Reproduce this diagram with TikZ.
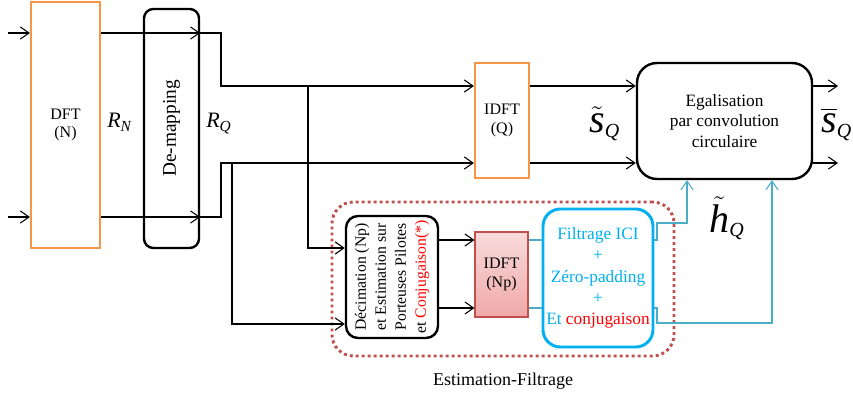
\documentclass[tikz,border=0pt]{standalone}
\usepackage{amsmath}
\usepackage{fontspec}
\setmainfont{Liberation Serif}
\usetikzlibrary{positioning,arrows.meta,calc}
\definecolor{corange}{RGB}{247,150,70}
\definecolor{cdot}{RGB}{192,80,77}
\definecolor{ccyan}{RGB}{0,176,240}
\definecolor{cline}{RGB}{75,172,198}
\definecolor{cpink}{RGB}{230,110,110}

\begin{document}
\begin{tikzpicture}[
  x=0.75pt,y=-0.75pt,
  font=\fontsize{12}{14}\selectfont,
  ob/.style={rectangle,draw=corange,line width=1.6pt,align=center,inner sep=0},
  kb/.style={rectangle,draw,rounded corners=#1,line width=1.8pt,align=center,inner sep=0},
  kb/.default=7pt,
  a/.style={-{Straight Barb[length=2.3mm,width=3.2mm]},line width=0.8pt},
  ca/.style={-{Straight Barb[length=2.3mm,width=3.2mm]},cline,line width=0.8pt},
  cl/.style={cline,line width=0.8pt},
  lab/.style={font=\fontsize{16.5}{17}\selectfont,anchor=base west,inner sep=0},
  big/.style={font=\fontsize{30}{30}\selectfont,anchor=base west,inner sep=0},
]
\useasboundingbox (0,0) rectangle (853,399);
% --- main chain ---
\node[ob,minimum width=51.75pt,minimum height=184.5pt] (dft) at (65.5,125) {DFT\\(N)};
\node[kb,rotate=90,minimum width=179.25pt,minimum height=41.25pt,font=\fontsize{14.5}{16}\selectfont] (dm) at (171.5,128.5) {De-mapping};
\node[ob,minimum width=40.5pt,minimum height=86.25pt] (iq) at (502,120.5) {IDFT\\(Q)};
\node[kb=15pt,minimum width=131.25pt,minimum height=87pt,font=\fontsize{13}{15.5}\selectfont] (eq) at (724.5,121) {Egalisation\\par convolution\\circulaire};
% --- estimation block ---
\node[draw=cdot,line width=2.2pt,dash pattern=on 2.2pt off 2.3pt,rounded corners=16pt,minimum width=256.5pt,minimum height=115.5pt] (est) at (503,279) {};
\node[below=8pt of est.south,font=\fontsize{13.5}{15}\selectfont] (estlab) {Estimation-Filtrage};
\node[kb=9pt,rotate=90,minimum width=91.5pt,minimum height=69pt,font=\fontsize{11.8}{15}\selectfont] (dec) at (392,277) {Décimation (Np)\\et Estimation sur\\Porteuses Pilotes\\et \textcolor{red}{Conjugaison(*)}};
\node[rectangle,draw=cdot,line width=0.8pt,top color=cpink!25,bottom color=cpink!60,minimum width=39.75pt,minimum height=63.75pt,align=center,inner sep=0] (inp) at (501.5,274.5) {IDFT\\(Np)};
\node[kb=13pt,draw=ccyan,line width=2.2pt,minimum width=82.5pt,minimum height=103.5pt,text=ccyan,font=\fontsize{13}{16}\selectfont] (fil) at (598,278) {Filtrage ICI\\+\\Zéro-padding\\+\\Et \textcolor{red}{conjugaison}};
% --- rows ---
\coordinate (in1) at (8,33); \coordinate (in2) at (8,217);
\coordinate (r1) at (221,86); \coordinate (r2) at (221,163);
\coordinate (b1) at (308,86); \coordinate (b2) at (232,163);
\coordinate (k1) at (0,248); \coordinate (k2) at (0,324);
\coordinate (p1) at (0,240); \coordinate (p2) at (0,308);
\coordinate (o1) at (838,86); \coordinate (o2) at (838,163);
\coordinate (h1) at (687,223); \coordinate (h2) at (772,323);
\draw[a] (in1) -- (in1 -| dft.west);
\draw[a] (in2) -- (in2 -| dft.west);
\draw[a] (in1 -| dft.east) -- (in1 -| dm.south);
\draw[a] (in2 -| dft.east) -- (in2 -| dm.south);
\draw[a] (in1 -| dm.north) -| (r1) -- (r1 -| iq.west);
\draw[a] (in2 -| dm.north) -| (r2) -- (r2 -| iq.west);
\draw[a] (b1) |- (k1 -| dec.north);
\draw[a] (b2) |- (k2 -| dec.north);
\draw[a] (r1 -| iq.east) -- (r1 -| eq.west);
\draw[a] (r2 -| iq.east) -- (r2 -| eq.west);
\draw[a] (r1 -| eq.east) -- (o1);
\draw[a] (r2 -| eq.east) -- (o2);
\draw[a] (p1 -| dec.south) -- (p1 -| inp.west);
\draw[a] (p2 -| dec.south) -- (p2 -| inp.west);
\draw[cl] (p1 -| inp.east) -- (p1 -| fil.west);
\draw[cl] (p2 -| inp.east) -- (p2 -| fil.west);
\draw[ca] (p1 -| fil.east) -| ($(h1)+(-30,0)$) -- (h1) -- (h1 |- eq.south);
\draw[ca] (p2 -| fil.east) -| ($(h2)+(-115,0)$) -- (h2) -- (h2 |- eq.south);
% --- labels ---
\node[lab] (rn) at (107,128) {$\textit{R}_{\textit{N}}$};
\node[lab] (rq) at (206,128) {$\textit{R}_{\textit{Q}}$};
\node[big] (sq) at (589,133) {$\tilde{\textit{s}}_{\scriptscriptstyle\textit{Q}}$};
\node[big] (sb) at (821,133) {$\overline{\textit{s}}_{\scriptscriptstyle\textit{Q}}$};
\node[big] (hq) at (709,232) {$\tilde{\textit{h}}_{\scriptscriptstyle\textit{Q}}$};
\end{tikzpicture}
\end{document}
